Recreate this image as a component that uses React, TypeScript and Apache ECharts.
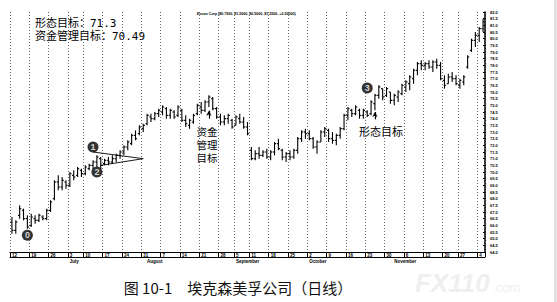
import { useEffect, useRef } from "react";
import * as echarts from "echarts";

// Trading days, June 12 - December 5, 1995
const junDays = [12, 13, 14, 15, 16, 19, 20, 21, 22, 23, 26, 27, 28, 29, 30];
const julDays = [3, 5, 6, 7, 10, 11, 12, 13, 14, 17, 18, 19, 20, 21, 24, 25, 26, 27, 28, 31];
const augDays = [1, 2, 3, 4, 7, 8, 9, 10, 11, 14, 15, 16, 17, 18, 21, 22, 23, 24, 25, 28, 29, 30, 31];
const sepDays = [5, 6, 7, 8, 11, 12, 13, 14, 15, 18, 19, 20, 21, 22, 25, 26, 27, 28, 29];
const octDays = [2, 3, 4, 5, 6, 9, 10, 11, 12, 13, 16, 17, 18, 19, 20, 23, 24, 25, 26, 27, 30, 31];
const novDays = [1, 2, 3, 6, 7, 8, 9, 10, 13, 14, 15, 16, 17, 20, 21, 22, 24, 27, 28, 29, 30];
const decDays = [1, 4, 5];

// Month captions under the date strip (June and December are not captioned)
const monthNames = ["", "July", "August", "September", "October", "November", ""];

// Daily bars: [open, high, low, close]
const ohlc: number[][] = [
  [66.25, 66.625, 65.375, 65.625],
  [65.625, 66.375, 65.375, 66.25],
  [66.75, 67.5, 66.5, 67.25],
  [67.125, 67.25, 66.375, 66.5],
  [66.5, 66.75, 65.75, 65.875],
  [66.0, 66.875, 65.875, 66.625],
  [66.5, 66.75, 66.125, 66.375],
  [66.375, 66.875, 66.25, 66.75],
  [66.625, 66.75, 66.375, 66.5],
  [66.5, 67.25, 66.375, 67.125],
  [67.125, 67.875, 67.0, 67.75],
  [68.0, 69.375, 67.875, 69.25],
  [69.25, 69.75, 68.625, 68.875],
  [68.875, 69.625, 68.625, 69.375],
  [69.25, 69.375, 68.75, 69.0],
  [69.0, 70.0, 68.875, 69.875],
  [69.75, 70.125, 69.375, 69.625],
  [69.75, 70.375, 69.625, 70.25],
  [70.125, 70.25, 69.625, 69.875],
  [69.875, 70.5, 69.75, 70.375],
  [70.25, 70.625, 70.125, 70.5],
  [70.5, 70.875, 70.25, 70.75],
  [70.75, 71.25, 70.375, 71.125],
  [71.0, 71.125, 70.25, 70.5],
  [70.625, 71.0, 70.5, 70.875],
  [70.875, 71.125, 70.5, 70.75],
  [70.75, 71.25, 70.625, 71.0],
  [71.0, 71.375, 70.75, 71.25],
  [71.25, 71.625, 71.0, 71.5],
  [71.5, 72.0, 71.25, 71.875],
  [71.875, 72.375, 71.625, 72.25],
  [72.125, 72.875, 72.0, 72.75],
  [72.75, 73.125, 72.375, 72.5],
  [72.875, 73.5, 72.75, 73.375],
  [73.25, 73.625, 73.0, 73.5],
  [73.625, 74.375, 73.5, 74.25],
  [74.125, 74.375, 73.75, 74.0],
  [74.0, 74.5, 73.875, 74.375],
  [74.375, 74.75, 74.125, 74.625],
  [74.5, 75.0, 74.25, 74.875],
  [74.75, 74.875, 74.0, 74.25],
  [74.25, 74.75, 74.0, 74.625],
  [74.5, 74.625, 74.0, 74.125],
  [74.25, 75.0, 74.125, 74.875],
  [74.625, 74.75, 73.75, 73.875],
  [73.875, 74.25, 73.375, 73.625],
  [73.5, 74.0, 73.25, 73.875],
  [73.75, 74.375, 73.625, 74.25],
  [74.375, 75.125, 74.25, 75.0],
  [74.875, 75.25, 74.375, 74.625],
  [74.625, 75.375, 74.5, 75.25],
  [75.25, 75.75, 74.875, 75.625],
  [75.5, 75.625, 74.625, 74.75],
  [74.75, 74.875, 74.0, 74.125],
  [74.125, 74.375, 73.5, 73.75],
  [73.75, 74.25, 73.5, 74.0],
  [74.0, 74.375, 73.625, 74.25],
  [73.875, 74.0, 73.25, 73.375],
  [73.5, 74.25, 73.5, 74.125],
  [74.0, 74.375, 73.625, 73.75],
  [73.75, 74.125, 73.25, 73.375],
  [73.375, 73.75, 72.75, 72.875],
  [71.625, 71.875, 70.875, 71.0],
  [71.0, 71.625, 70.875, 71.375],
  [71.375, 71.875, 71.0, 71.25],
  [71.25, 71.625, 71.125, 71.5],
  [71.5, 71.75, 71.0, 71.125],
  [71.125, 71.625, 70.875, 71.5],
  [71.5, 72.25, 71.25, 72.125],
  [72.125, 72.5, 71.625, 71.75],
  [71.625, 71.75, 70.875, 71.125],
  [71.125, 71.5, 70.75, 71.375],
  [71.375, 71.625, 70.875, 71.125],
  [71.125, 71.75, 71.0, 71.625],
  [71.625, 72.625, 71.375, 72.5],
  [72.5, 73.125, 72.25, 73.0],
  [73.0, 73.25, 72.5, 72.875],
  [72.875, 73.125, 72.375, 72.5],
  [72.5, 72.625, 71.75, 71.875],
  [71.875, 72.375, 71.375, 72.25],
  [72.25, 73.125, 72.25, 73.0],
  [73.0, 73.375, 72.625, 73.25],
  [73.125, 73.25, 72.25, 72.5],
  [72.5, 73.0, 72.125, 72.375],
  [72.375, 72.875, 72.0, 72.75],
  [72.75, 73.375, 72.5, 73.25],
  [73.25, 74.375, 73.125, 74.25],
  [74.25, 74.875, 73.875, 74.75],
  [74.625, 74.75, 74.125, 74.375],
  [74.375, 75.0, 74.25, 74.875],
  [74.625, 74.75, 74.0, 74.25],
  [74.25, 74.75, 74.0, 74.625],
  [74.5, 74.625, 74.125, 74.25],
  [74.375, 75.375, 74.25, 75.25],
  [75.125, 75.875, 74.625, 75.75],
  [75.75, 76.5, 75.5, 76.375],
  [76.25, 76.25, 75.375, 75.625],
  [75.75, 76.375, 75.625, 76.25],
  [76.0, 76.0, 75.125, 75.375],
  [75.375, 75.875, 75.0, 75.75],
  [75.625, 76.125, 75.25, 76.0],
  [75.875, 76.625, 75.75, 76.5],
  [76.375, 76.875, 76.0, 76.75],
  [76.625, 77.25, 76.125, 77.125],
  [77.0, 77.75, 76.625, 77.625],
  [77.625, 78.25, 77.25, 78.125],
  [78.125, 78.375, 77.625, 78.0],
  [78.0, 78.25, 77.625, 78.125],
  [78.125, 78.375, 77.75, 77.875],
  [77.875, 78.375, 77.5, 78.25],
  [78.25, 78.5, 77.75, 78.0],
  [78.0, 78.25, 76.875, 77.0],
  [76.875, 77.25, 76.25, 76.5],
  [76.625, 77.375, 76.625, 77.125],
  [77.125, 77.5, 76.75, 77.0],
  [77.0, 77.25, 76.5, 76.625],
  [76.5, 77.0, 76.25, 76.875],
  [76.75, 77.25, 76.5, 77.125],
  [77.875, 78.75, 77.75, 78.625],
  [79.125, 80.0, 79.0, 79.875],
  [79.875, 80.5, 79.375, 80.25],
  [80.25, 80.875, 79.75, 80.75],
  [80.75, 81.5, 80.5, 81.25],
];

// Price axis
const priceMin = 64;
const priceMax = 82;
const priceStep = 0.5;

// Targets quoted in the notes
const patternTarget = 71.3;
const moneyTarget = 70.49;

// Numbered trade points: [date, price, label]
const tradePoints: [string, number, string][] = [
  ["1995-06-16", 65.25, "0"],
  ["1995-07-12", 71.875, "1"],
  ["1995-07-13", 70.0, "2"],
  ["1995-10-23", 76.3, "3"],
];

// Triangle consolidation outline: [date, price]
const triangle: [string, number][] = [
  ["1995-07-12", 71.5],
  ["1995-07-31", 71.0],
  ["1995-07-14", 70.5],
];

// Target arrows: [date, from price, to price]
const targetArrows: [string, number, number][] = [
  ["1995-08-23", 74.0, 74.6],
  ["1995-10-25", 73.95, 74.5],
];

const pad = (n: number) => (n < 10 ? "0" + n : "" + n);
const monthLists = [junDays, julDays, augDays, sepDays, octDays, novDays, decDays];
const categories: string[] = [];
monthLists.forEach((days, m) => {
  days.forEach((d) => categories.push(`1995-${pad(m + 6)}-${pad(d)}`));
});

const weekday = (s: string) => new Date(s + "T00:00:00Z").getUTCDay();
const isWeekStart = (i: number) => i === 0 || weekday(categories[i]) < weekday(categories[i - 1]);
const monthIdx = (s: string) => Number(s.slice(5, 7)) - 6;
const isMonthStart = (i: number) =>
  i > 0 && categories[i].slice(5, 7) !== categories[i - 1].slice(5, 7) && monthNames[monthIdx(categories[i])] !== "";

const App = () => {
  const ref = useRef<HTMLDivElement>(null);

  useEffect(() => {
    if (!ref.current) return;
    const chart = echarts.init(ref.current, undefined, { renderer: "svg" });

    const bars = categories.map((c, i) => [c, ...ohlc[i]]);
    const last = ohlc[ohlc.length - 1];
    const prev = ohlc[ohlc.length - 2];
    const chg = last[3] - prev[3];
    const header = `Exxon Corp (${last[0].toFixed(4)}, ${last[1].toFixed(4)}, ${last[2].toFixed(4)}, ${last[3].toFixed(4)}, ${chg >= 0 ? "+" : ""}${chg.toFixed(5)})`;

    const cjk = '"Noto Sans CJK SC", "Noto Sans", sans-serif';
    const compactCjk = '"Liberation Sans", "Noto Sans CJK SC", sans-serif';
    const noteLines = ["资金", "管理", "目标"];

    chart.setOption({
      animation: false,
      backgroundColor: "#ffffff",
      grid: { left: 10, right: 72, top: 12, bottom: 50, containLabel: false },
      xAxis: [
        {
          type: "category",
          data: categories,
          boundaryGap: true,
          axisLine: { show: true, lineStyle: { color: "#000", width: 1 } },
          axisTick: {
            show: true,
            interval: (i: number) => isWeekStart(i),
            length: 5,
            lineStyle: { color: "#000", width: 1 },
          },
          axisLabel: {
            show: true,
            interval: (i: number) => isWeekStart(i),
            formatter: (v: string) => String(Number(v.slice(8, 10))),
            fontSize: 4.5,
            fontWeight: "bold",
            color: "#000",
            align: "left",
            margin: 1,
            fontFamily: "Liberation Sans",
          },
          splitLine: {
            show: true,
            interval: (i: number) => isWeekStart(i),
            lineStyle: { color: "#555", type: [1, 2], width: 0.9 },
          },
        },
        {
          type: "category",
          data: categories,
          position: "bottom",
          offset: 5,
          boundaryGap: true,
          axisLine: { show: true, lineStyle: { color: "#000", width: 1 } },
          axisTick: { show: false },
          axisLabel: {
            show: true,
            interval: (i: number) => isMonthStart(i),
            formatter: (v: string) => monthNames[monthIdx(v)],
            fontSize: 4.5,
            fontWeight: "bold",
            color: "#000",
            align: "left",
            margin: 1.5,
            fontFamily: "Liberation Sans",
          },
          splitLine: { show: false },
        },
      ],
      yAxis: {
        type: "value",
        position: "right",
        min: priceMin,
        max: priceMax,
        interval: priceStep,
        axisLine: { show: true, lineStyle: { color: "#000", width: 1.5 } },
        axisTick: { show: true, inside: true, length: 2, lineStyle: { color: "#000" } },
        axisLabel: {
          show: true,
          fontSize: 4,
          fontWeight: "bold",
          color: "#000",
          margin: 5,
          fontFamily: "Liberation Sans",
          formatter: (v: number) => v.toFixed(1),
        },
        splitLine: { show: false },
      },
      series: [
        {
          type: "custom",
          name: "XOM",
          data: bars,
          encode: { x: 0, y: [1, 2, 3, 4] },
          renderItem: (params: any, api: any) => {
            const x = api.value(0);
            const pO = api.coord([x, api.value(1)]);
            const pH = api.coord([x, api.value(2)]);
            const pL = api.coord([x, api.value(3)]);
            const pC = api.coord([x, api.value(4)]);
            const w = 1.6;
            const st = { stroke: "#000", lineWidth: 1.1 };
            return {
              type: "group",
              children: [
                { type: "line", shape: { x1: pH[0], y1: pH[1], x2: pL[0], y2: pL[1] }, style: st },
                { type: "line", shape: { x1: pO[0] - w, y1: pO[1], x2: pO[0], y2: pO[1] }, style: st },
                { type: "line", shape: { x1: pC[0], y1: pC[1], x2: pC[0] + w, y2: pC[1] }, style: st },
              ],
            };
          },
        },
        {
          type: "line",
          name: "triangle",
          data: triangle,
          symbol: "none",
          lineStyle: { color: "#000", width: 0.9 },
          z: 3,
          markLine: {
            silent: true,
            symbol: ["none", "arrow"],
            symbolSize: [4, 5],
            label: { show: false },
            lineStyle: { color: "#000", type: "solid", width: 1.2 },
            data: targetArrows.map(([d, a, b]) => [{ coord: [d, a] }, { coord: [d, b] }]),
          },
        },
        {
          type: "scatter",
          name: "points",
          data: tradePoints.map(([d, p, t]) => ({ value: [d, p], name: t })),
          symbol: "circle",
          symbolSize: 11,
          itemStyle: { color: "#000" },
          z: 5,
          label: {
            show: true,
            position: "inside",
            formatter: (p: any) => p.name,
            color: "#fff",
            fontSize: 9,
            fontWeight: "bold",
            fontFamily: "Liberation Sans",
          },
        },
      ],
      graphic: [
        {
          type: "text",
          x: 35,
          y: 23,
          style: {
            text: `形态目标：${patternTarget}`,
            font: `11px "DejaVu Sans Mono", ${cjk}`,
            fill: "#000",
            textVerticalAlign: "middle",
          },
        },
        {
          type: "text",
          x: 35,
          y: 36,
          style: {
            text: `资金管理目标：${moneyTarget}`,
            font: `11px "DejaVu Sans Mono", ${cjk}`,
            fill: "#000",
            textVerticalAlign: "middle",
          },
        },
        {
          type: "text",
          x: 197,
          y: 14,
          style: {
            text: header,
            font: 'bold 3.6px "Liberation Sans", sans-serif',
            fill: "#000",
            textVerticalAlign: "middle",
          },
        },
        ...noteLines.map((t, k) => ({
          type: "text",
          x: 207,
          y: 132 + k * 12.8,
          style: {
            text: t,
            font: `10.5px ${compactCjk}`,
            fill: "#000",
            textAlign: "center",
            textVerticalAlign: "middle",
          },
        })),
        {
          type: "text",
          x: 381,
          y: 131,
          style: {
            text: "形态目标",
            font: `11px ${cjk}`,
            fill: "#000",
            textAlign: "center",
            textVerticalAlign: "middle",
          },
        },
        {
          type: "text",
          x: 238,
          y: 287,
          style: {
            text: "图 10-1　埃克森美孚公司（日线）",
            font: `15px ${cjk}`,
            fill: "#111",
            textAlign: "center",
            textVerticalAlign: "middle",
          },
        },
        {
          type: "text",
          x: 415,
          y: 283,
          style: {
            text: "FX110",
            font: 'bold italic 26px "Liberation Sans", sans-serif',
            fill: "#efefef",
            textVerticalAlign: "middle",
          },
        },
        {
          type: "text",
          x: 492,
          y: 287,
          style: {
            text: ".com",
            font: '13px "Liberation Sans", sans-serif',
            fill: "#efefef",
            textVerticalAlign: "middle",
          },
        },
        {
          type: "rect",
          shape: { x: 554, y: 0, width: 3, height: 302 },
          style: { fill: "#e2e2e2" },
        },
      ],
    });

    return () => chart.dispose();
  }, []);

  return (
    <div
      ref={ref}
      style={{ position: "fixed", left: 0, top: 0, width: 557, height: 302, background: "#fff" }}
    />
  );
};

export default App;
